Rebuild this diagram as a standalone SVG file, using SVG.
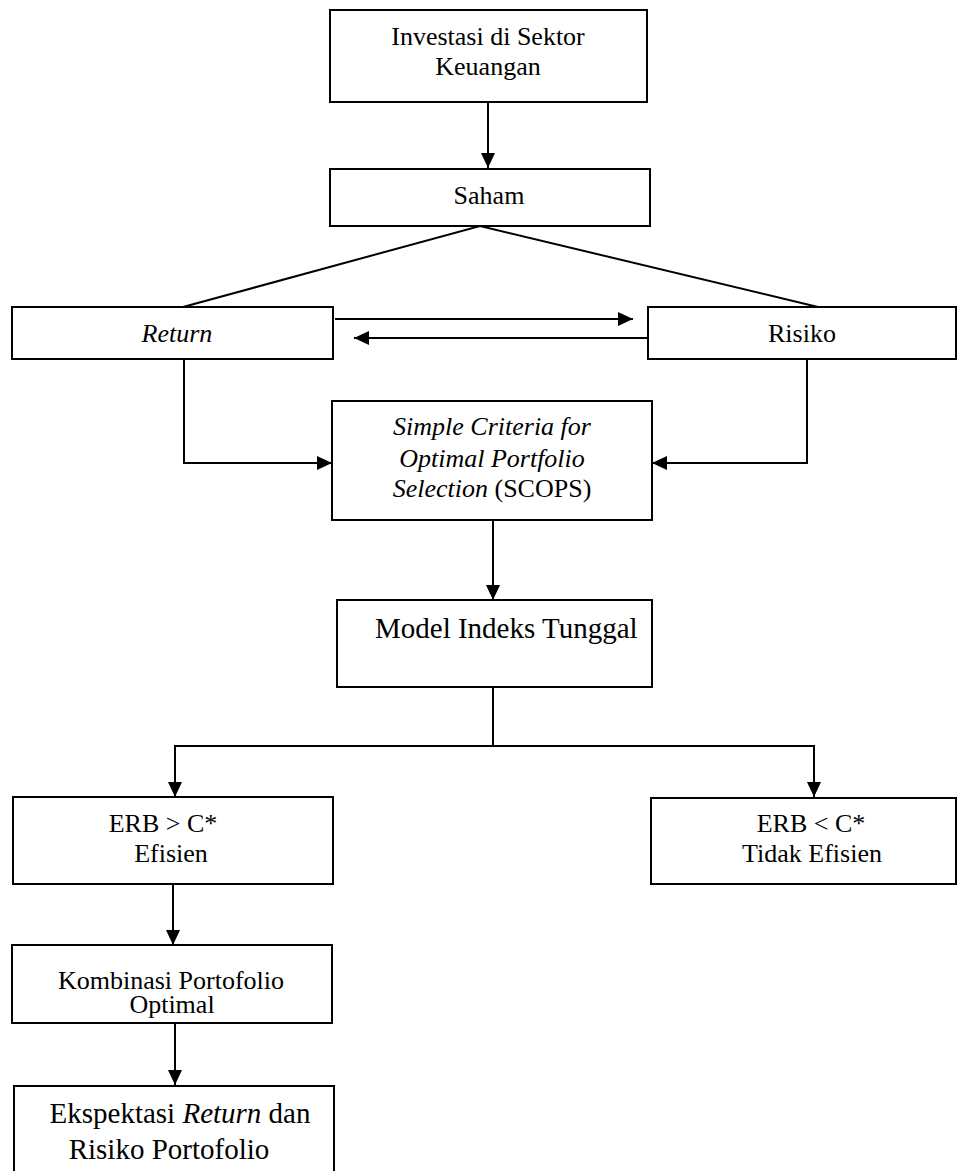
<svg xmlns="http://www.w3.org/2000/svg" width="957" height="1171" viewBox="0 0 957 1171">
<style>
.box{fill:#fff;stroke:#000;stroke-width:2}
.t{font-family:"Liberation Serif","Times New Roman","DejaVu Serif",serif;font-size:26px;fill:#000;text-anchor:middle}
.big{font-size:29px}
.ln{fill:none;stroke:#000;stroke-width:2}
</style>
<defs>
<marker id="ah" markerUnits="userSpaceOnUse" markerWidth="16" markerHeight="16" refX="15" refY="7" orient="auto">
<path d="M0,0 L15,7 L0,14 z" fill="#000"/>
</marker>
<clipPath id="ck"><rect x="12" y="945" width="320" height="77"/></clipPath>
</defs>
<rect width="957" height="1171" fill="#fff"/>
<g id="connectors">
<line class="ln" x1="488" y1="103" x2="488" y2="168" marker-end="url(#ah)"/>
<polyline class="ln" points="183,307 480,226 818,307"/>
<line class="ln" x1="335" y1="319" x2="633" y2="319" marker-end="url(#ah)"/>
<line class="ln" x1="648" y1="338" x2="354" y2="338" marker-end="url(#ah)"/>
<polyline class="ln" points="184,360 184,463 332,463" marker-end="url(#ah)"/>
<polyline class="ln" points="807,360 807,463 652,463" marker-end="url(#ah)"/>
<line class="ln" x1="493" y1="521" x2="493" y2="600" marker-end="url(#ah)"/>
<line class="ln" x1="493" y1="687" x2="493" y2="746"/>
<line class="ln" x1="174" y1="746" x2="815" y2="746"/>
<line class="ln" x1="175" y1="746" x2="175" y2="797" marker-end="url(#ah)"/>
<line class="ln" x1="814" y1="746" x2="814" y2="797" marker-end="url(#ah)"/>
<line class="ln" x1="173" y1="884" x2="173" y2="945" marker-end="url(#ah)"/>
<line class="ln" x1="175" y1="1023" x2="175" y2="1085" marker-end="url(#ah)"/>
</g>
<g id="n1"><rect class="box" x="330" y="10" width="317" height="92"/>
<text class="t" x="488" y="45">Investasi di Sektor</text><text class="t" x="488" y="75">Keuangan</text></g>
<g id="n2"><rect class="box" x="330" y="169" width="320" height="57"/>
<text class="t" x="489" y="204">Saham</text></g>
<g id="n3"><rect class="box" x="12" y="307" width="321" height="52"/>
<text class="t" x="177" y="342" font-style="italic">Return</text></g>
<g id="n4"><rect class="box" x="648" y="307" width="308" height="52"/>
<text class="t" x="802" y="342">Risiko</text></g>
<g id="n5"><rect class="box" x="332" y="401" width="320" height="119"/>
<text class="t" x="492" y="435" font-style="italic">Simple Criteria for</text>
<text class="t" x="492" y="467" font-style="italic">Optimal Portfolio</text>
<text class="t" x="492" y="497"><tspan font-style="italic">Selection</tspan> (SCOPS)</text></g>
<g id="n6"><rect class="box" x="337" y="600" width="315" height="87"/>
<text class="t big" x="375" y="638" style="text-anchor:start">Model Indeks Tunggal</text></g>
<g id="n7"><rect class="box" x="13" y="797" width="320" height="87"/>
<text class="t" x="163" y="832">ERB &gt; C*</text><text class="t" x="171" y="862">Efisien</text></g>
<g id="n8"><rect class="box" x="651" y="798" width="305" height="86"/>
<text class="t" x="811" y="832">ERB &lt; C*</text><text class="t" x="812" y="862">Tidak Efisien</text></g>
<g id="n9"><rect class="box" x="12" y="945" width="320" height="78"/>
<g clip-path="url(#ck)"><text class="t" x="171" y="989">Kombinasi Portofolio</text><text class="t" x="172" y="1013">Optimal</text></g></g>
<g id="n10"><rect class="box" x="14" y="1086" width="320" height="95"/>
<text class="t big" x="180" y="1123">Ekspektasi <tspan font-style="italic">Return</tspan> dan</text>
<text class="t big" x="169" y="1159">Risiko Portofolio</text></g>
</svg>
